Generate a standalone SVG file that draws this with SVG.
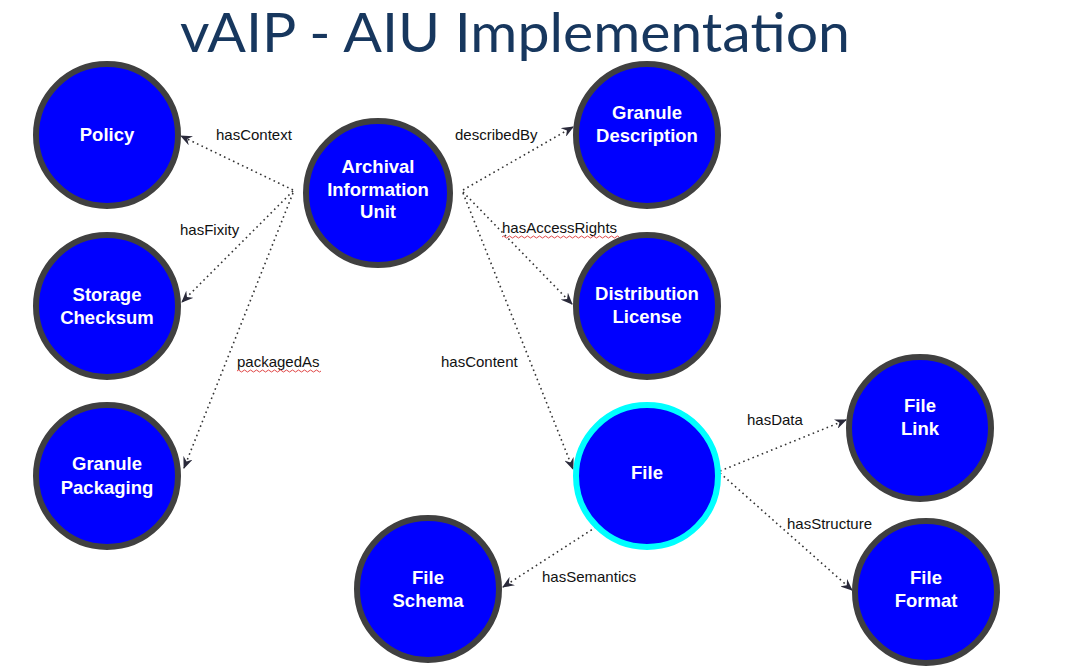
<svg xmlns="http://www.w3.org/2000/svg" width="1089" height="670" viewBox="0 0 1089 670">
<style>
.node{fill:#0000ff;stroke:#404040;stroke-width:6}
.node.sel{stroke:#00ffff}
.nl{font-family:"Liberation Sans",Arial,sans-serif;font-weight:bold;font-size:18.5px;fill:#ffffff;text-anchor:middle}
.edge{fill:none;stroke:#333333;stroke-width:1.6;stroke-dasharray:1.6 3.4;marker-end:url(#arr)}
.el{font-family:"Liberation Sans",Arial,sans-serif;font-size:15px;fill:#111111}
.wave{fill:none;stroke:#e04848;stroke-width:1}
</style>
<defs>
<marker id="arr" viewBox="0 0 12 10" refX="11" refY="5" markerWidth="12" markerHeight="10" markerUnits="userSpaceOnUse" orient="auto">
<path d="M0,0 L12,5 L0,10 L4,5 Z" fill="#2a2a3a"/>
</marker>
</defs>
<rect width="1089" height="670" fill="#ffffff"/>
<text x="180" y="52" font-family="Lato,'Open Sans',sans-serif" font-size="55" fill="#17375E" textLength="670" lengthAdjust="spacingAndGlyphs">vAIP - AIU Implementation</text>

<g id="connectors">
<path class="edge" d="M293,190 L181,136"/>
<path class="edge" d="M293,191 L182,302"/>
<path class="edge" d="M293,193 L184,468"/>
<path class="edge" d="M463,190 L573,127"/>
<path class="edge" d="M463,192 L572,304"/>
<path class="edge" d="M463,193 L573,469"/>
<path class="edge" d="M720,471 L846,420"/>
<path class="edge" d="M720,473 L852,590"/>
<path class="edge" d="M596,527 L503,587"/>
<text class="el" x="216" y="140">hasContext</text>
<text class="el" x="180" y="235">hasFixity</text>
<text class="el" x="237" y="367">packagedAs</text>
<path class="wave" d="M237,371 q1.5,-2 3,0 t3,0 t3,0 t3,0 t3,0 t3,0 t3,0 t3,0 t3,0 t3,0 t3,0 t3,0 t3,0 t3,0 t3,0 t3,0 t3,0 t3,0 t3,0 t3,0 t3,0 t3,0 t3,0 t3,0 t3,0 t3,0 t3,0 t3,0"/>
<text class="el" x="455" y="140">describedBy</text>
<text class="el" x="502" y="233">hasAccessRights</text>
<path class="wave" d="M502,237 q1.5,-2 3,0 t3,0 t3,0 t3,0 t3,0 t3,0 t3,0 t3,0 t3,0 t3,0 t3,0 t3,0 t3,0 t3,0 t3,0 t3,0 t3,0 t3,0 t3,0 t3,0 t3,0 t3,0 t3,0 t3,0 t3,0 t3,0 t3,0 t3,0 t3,0 t3,0 t3,0 t3,0 t3,0 t3,0 t3,0 t3,0 t3,0 t3,0 t3,0"/>
<text class="el" x="441" y="367">hasContent</text>
<text class="el" x="747" y="425">hasData</text>
<text class="el" x="787" y="529">hasStructure</text>
<text class="el" x="542" y="582">hasSemantics</text>
</g>

<g id="policy"><circle class="node" cx="107" cy="135" r="71"/><text class="nl" x="107" y="141">Policy</text></g>
<g id="aiu"><circle class="node" cx="378" cy="193" r="72"/><text class="nl" x="378" y="173">Archival</text><text class="nl" x="378" y="196">Information</text><text class="nl" x="378" y="218">Unit</text></g>
<g id="granule-description"><circle class="node" cx="647" cy="135" r="71"/><text class="nl" x="647" y="119">Granule</text><text class="nl" x="647" y="142">Description</text></g>
<g id="storage-checksum"><circle class="node" cx="107" cy="306" r="71"/><text class="nl" x="107" y="301">Storage</text><text class="nl" x="107" y="324">Checksum</text></g>
<g id="distribution-license"><circle class="node" cx="647" cy="306" r="71"/><text class="nl" x="647" y="300">Distribution</text><text class="nl" x="647" y="323">License</text></g>
<g id="granule-packaging"><circle class="node" cx="107" cy="476" r="71"/><text class="nl" x="107" y="470">Granule</text><text class="nl" x="107" y="494">Packaging</text></g>
<g id="file"><circle class="node sel" cx="647" cy="476" r="71"/><text class="nl" x="647" y="479">File</text></g>
<g id="file-link"><circle class="node" cx="920" cy="428" r="71"/><text class="nl" x="920" y="412">File</text><text class="nl" x="920" y="435">Link</text></g>
<g id="file-schema"><circle class="node" cx="428" cy="589" r="71"/><text class="nl" x="428" y="584">File</text><text class="nl" x="428" y="607">Schema</text></g>
<g id="file-format"><circle class="node" cx="926" cy="592" r="71"/><text class="nl" x="926" y="584">File</text><text class="nl" x="926" y="607">Format</text></g>
</svg>
